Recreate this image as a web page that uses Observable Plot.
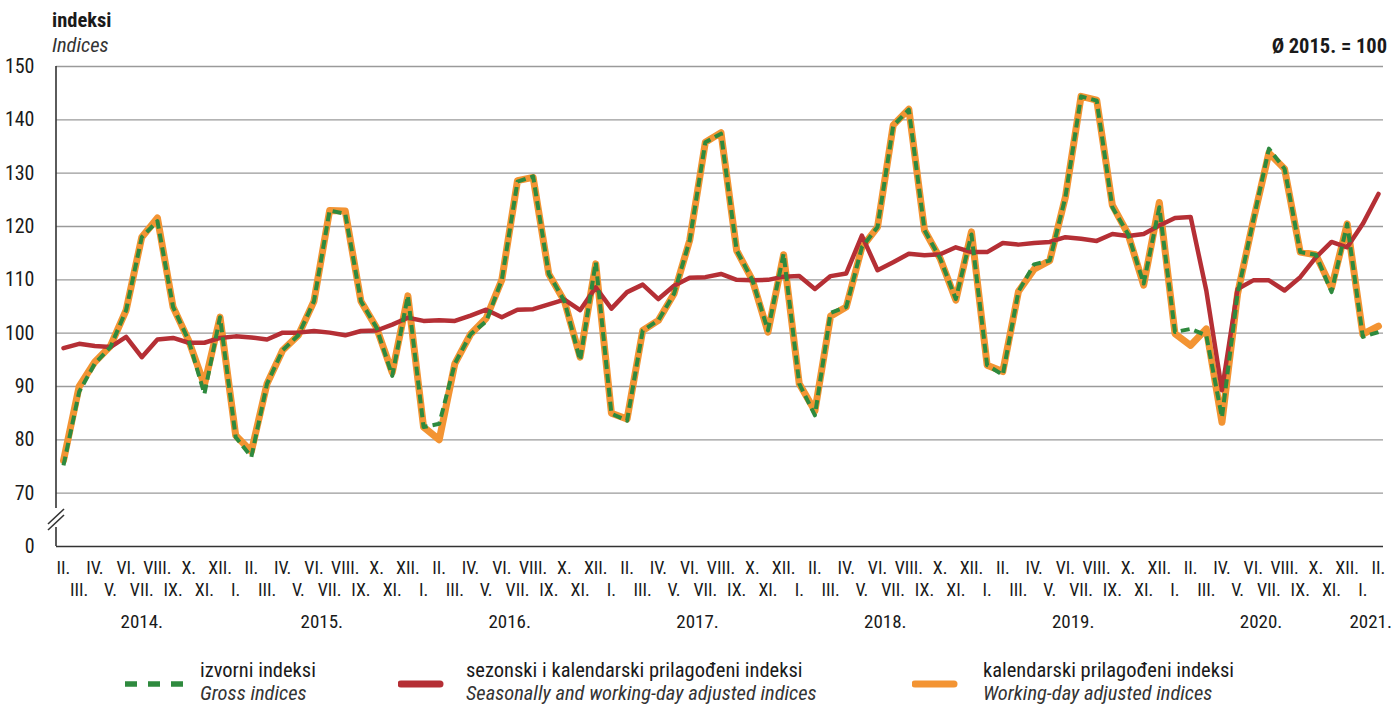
<!DOCTYPE html>
<html><head><meta charset="utf-8">
<script src="https://cdn.jsdelivr.net/npm/d3@7"></script>
<script src="https://cdn.jsdelivr.net/npm/@observablehq/plot@0.6"></script>
<style>
body{margin:0;background:#fff;}
#wrap{position:relative;width:1400px;height:706px;overflow:hidden;font-family:"Liberation Sans Narrow","Arial Narrow","Roboto Condensed",Roboto,sans-serif;color:#1a1a1a;}
#wrap svg{position:absolute;left:0;top:0;}
.t{position:absolute;white-space:nowrap;font-size:20.5px;line-height:1;}
.b{font-weight:bold;}
.i{font-style:italic;color:#333;}
.sw{position:absolute;}
</style></head><body><div id="wrap"></div>
<script>
const monthLabels = ["I.","II.","III.","IV.","V.","VI.","VII.","VIII.","IX.","X.","XI.","XII."];
const startYear = 2014, startMonth = 2;
const yTicks = [0,70,80,90,100,110,120,130,140,150];
const axisFloor = 60; // scale position standing in for 0 on the broken axis

const gross = [75.2,89,94.3,97.4,104.3,118,121,104.9,98.6,88.6,103,
 80.5,76.8,90.5,96.8,99.6,106,123,122.4,106,101,92,107,
 82.4,83,94.3,99.8,102.2,110,128.4,129.4,111.1,106,94.9,113.3,
 84.9,83.6,100.5,102.4,107.4,117.4,135.8,137.4,115.5,110,100.5,114.9,
 90.5,84.6,103.8,104.9,116.1,119.9,138.9,141.9,119.3,114,106.4,118.5,
 94,92.2,107.8,112.9,113.6,125.5,144.4,143.6,123.6,118.6,109.3,123.6,
 100.2,100.8,99.6,84.2,107.4,121.1,134.6,130.8,115.2,114.7,107.7,120.5,
 99.3,100.2];
const workingDay = [76.1,90,94.6,97.6,104.3,118,121.6,104.9,98.6,90.3,103,
 80.8,77.8,90.5,96.8,99.6,106,123,122.9,106,101,92.6,107,
 82.4,80,94.3,99.8,102.8,110,128.6,129.2,111.1,106,95.5,113,
 85,83.9,100.5,102.4,107.4,117.4,135.8,137.6,115.5,110,100.2,114.7,
 90.5,85.4,103.2,104.9,116.1,119.9,139,142,119.3,114,106.2,119,
 94,92.8,107.8,112,113.6,125.5,144.4,143.7,124,118.6,109,124.5,
 99.9,97.7,100.8,83.3,107.4,121.1,133.8,130.8,115.2,114.7,108.5,120.5,
 99.8,101.3];
const seasonal = [97.2,98,97.6,97.4,99.3,95.5,98.8,99.1,98.2,98.2,99.1,
 99.4,99.2,98.8,100.1,100.1,100.4,100.1,99.6,100.4,100.5,101.6,102.9,
 102.3,102.4,102.3,103.3,104.4,103,104.4,104.5,105.4,106.3,104.3,108.6,
 104.6,107.7,109.1,106.4,108.9,110.4,110.5,111.1,110,109.9,110,110.6,
 110.7,108.3,110.7,111.2,118.3,111.8,113.3,114.9,114.6,114.8,116.1,115.2,
 115.2,116.9,116.6,116.9,117.1,118,117.7,117.3,118.6,118.2,118.6,120.2,
 121.6,121.8,108,89.3,108.3,109.9,109.9,108,110.5,114.2,117.1,116.1,
 120.5,126.1];

const legendHr = ["izvorni indeksi","sezonski i kalendarski prilagođeni indeksi","kalendarski prilagođeni indeksi"];
const legendEn = ["Gross indices","Seasonally and working-day adjusted indices","Working-day adjusted indices"];
const colors = {gross:"#2e8a3e", sa:"#b52f35", wd:"#f39433"};

const rows = gross.map((g,i)=>{
  const k = startMonth-1+i;
  return {i, gross:g, wd:workingDay[i], sa:seasonal[i], m:k%12, yr:startYear+Math.floor(k/12)};
});
const years = d3.groups(rows, d=>d.yr).map(([yr, arr])=>({label: yr+".", c: d3.mean(arr, d=>d.i)}));

const plot = Plot.plot({
  width:1400, height:640,
  marginLeft:56, marginRight:17, marginTop:66, marginBottom:94,
  x:{domain:[-0.447, 84.32], axis:null},
  y:{domain:[axisFloor,150], axis:null},
  style:{fontFamily:'"Liberation Sans Narrow","Arial Narrow","Roboto Condensed",Roboto,sans-serif', color:"#1a1a1a", background:"transparent"},
  marks:[
    Plot.ruleY(yTicks.filter(d=>d>=70), {stroke:"#9a9a9a", strokeWidth:1.3}),
    Plot.ruleY([axisFloor], {stroke:"#333", strokeWidth:1.6}),
    Plot.text(yTicks, {x:()=>-0.447, y:d=>d===0?axisFloor:d, text:d=>String(d), textAnchor:"end", dx:-22, fontSize:20}),
    Plot.lineY(rows, {x:"i", y:"wd", stroke:colors.wd, strokeWidth:7}),
    Plot.lineY(rows, {x:"i", y:"sa", stroke:colors.sa, strokeWidth:4.5}),
    Plot.lineY(rows, {x:"i", y:"gross", stroke:colors.gross, strokeWidth:4, strokeDasharray:"9,5", strokeLinecap:"butt"}),
    Plot.text(rows.filter(d=>d.i%2===0), {x:"i", y:()=>axisFloor, text:d=>monthLabels[d.m], dy:22, fontSize:18}),
    Plot.text(rows.filter(d=>d.i%2===1), {x:"i", y:()=>axisFloor, text:d=>monthLabels[d.m], dy:44, fontSize:18}),
    Plot.text(years, {x:"c", y:()=>axisFloor, text:"label", dy:75, fontSize:19})
  ]
});
const wrap = document.getElementById("wrap");
wrap.appendChild(plot);

// broken left axis
const xs = plot.scale("x"), ys = plot.scale("y");
const ax = xs.apply(-0.447), yTop = ys.apply(150), yBot = ys.apply(axisFloor);
const svg = d3.select(plot);
const g = svg.append("g").attr("stroke","#333").attr("stroke-width",1.6);
g.append("line").attr("x1",ax).attr("x2",ax).attr("y1",yTop).attr("y2",yBot-38);
g.append("line").attr("x1",ax).attr("x2",ax).attr("y1",yBot-19).attr("y2",yBot);
g.append("line").attr("x1",ax-8).attr("x2",ax+8).attr("y1",yBot-22).attr("y2",yBot-37);
g.append("line").attr("x1",ax-8).attr("x2",ax+8).attr("y1",yBot-16).attr("y2",yBot-31);

// titles
function addText(html, cls, left, top, right){
  const d = document.createElement("div");
  d.className = "t " + cls; d.textContent = html;
  d.style.top = top+"px";
  if (right!=null) d.style.right = right+"px"; else d.style.left = left+"px";
  wrap.appendChild(d); return d;
}
addText("indeksi","b",52,10);
addText("Indices","i",52,35);
addText("Ø 2015. = 100","b",null,36,13);

// legend
const legendX = [{sw:125, tx:200, key:"gross"},{sw:398, tx:466, key:"sa"},{sw:912, tx:983, key:"wd"}];
legendX.forEach((L,k)=>{
  const s = d3.select(wrap).append("svg").attr("class","sw").attr("width",70).attr("height",20)
    .style("left",L.sw+"px").style("top",(684-10)+"px");
  if (L.key==="gross") s.append("line").attr("x1",0).attr("x2",58).attr("y1",10).attr("y2",10)
      .attr("stroke",colors.gross).attr("stroke-width",5.5).attr("stroke-dasharray","12,11");
  else s.append("line").attr("x1",3).attr("x2",42).attr("y1",10).attr("y2",10)
      .attr("stroke",colors[L.key]).attr("stroke-width",7).attr("stroke-linecap","round");
  addText(legendHr[k],"",L.tx,660);
  addText(legendEn[k],"i",L.tx,683);
});
</script></body></html>
